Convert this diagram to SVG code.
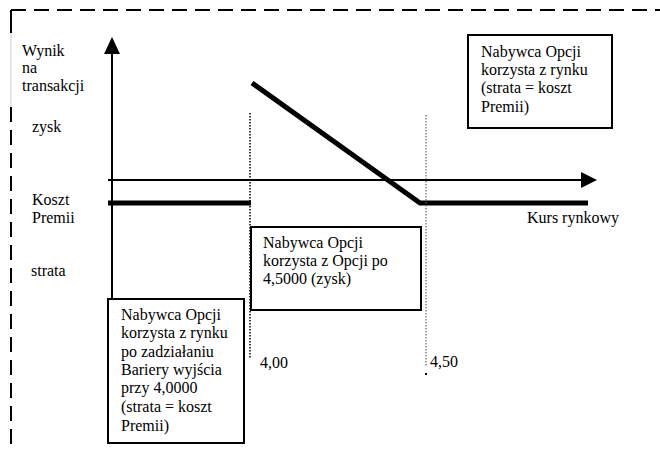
<svg xmlns="http://www.w3.org/2000/svg" width="660" height="449" viewBox="0 0 660 449">
<style>
.box{fill:#fff;stroke:#000;stroke-width:2}
.thick{stroke:#000;stroke-width:5;fill:none}
svg text, g text, #labels text, #box-market text, #box-option text, #box-barrier text{font-family:"Liberation Serif",serif !important;font-size:16px !important;fill:#000}
</style>
<rect width="660" height="449" fill="#fff"/>
<g id="border">
<path d="M11,10 H660" stroke="#000" stroke-width="2" stroke-dasharray="15,8" fill="none"/>
<path d="M11,10 V33" stroke="#000" stroke-width="2" fill="none"/>
<path d="M11,33 V107" stroke="#ccc" stroke-width="1" fill="none"/>
<path d="M11,107 V449" stroke="#000" stroke-width="2" stroke-dasharray="15,8" fill="none"/>
</g>
<g id="connectors">
<line x1="112" y1="299" x2="112" y2="50" stroke="#000" stroke-width="2"/>
<polygon points="112,37 104,54 120,54" fill="#000"/>
<line x1="108" y1="180" x2="584" y2="180" stroke="#000" stroke-width="2"/>
<polygon points="597,180 581,172 581,188" fill="#000"/>
<path class="thick" d="M108,203 H251"/>
<path class="thick" d="M252,83 L420,203 H588"/>
<line x1="250" y1="113" x2="250" y2="358" stroke="#000" stroke-width="1.5" stroke-dasharray="1.5,1.5"/>
<line x1="426" y1="115" x2="426" y2="366" stroke="#666" stroke-width="1.2" stroke-dasharray="1.5,1.5"/>
<rect x="425" y="373" width="2" height="2" fill="#000"/>
</g>
<g id="labels">
<text x="22" y="56" font-family="Liberation Serif, serif" font-size="16" style="font-family:Liberation Serif,serif !important">Wynik</text>
<text x="22" y="73" font-family="Liberation Serif, serif" font-size="16" style="font-family:Liberation Serif,serif !important">na</text>
<text x="22" y="91" font-family="Liberation Serif, serif" font-size="16" style="font-family:Liberation Serif,serif !important">transakcji</text>
<text x="32" y="132" font-family="Liberation Serif, serif" font-size="16" style="font-family:Liberation Serif,serif !important">zysk</text>
<text x="32" y="205" font-family="Liberation Serif, serif" font-size="16" style="font-family:Liberation Serif,serif !important">Koszt</text>
<text x="32" y="223" font-family="Liberation Serif, serif" font-size="16" style="font-family:Liberation Serif,serif !important">Premii</text>
<text x="31" y="276" font-family="Liberation Serif, serif" font-size="16" style="font-family:Liberation Serif,serif !important">strata</text>
<text x="527" y="223" font-family="Liberation Serif, serif" font-size="16" style="font-family:Liberation Serif,serif !important">Kurs rynkowy</text>
<text x="260" y="368" font-family="Liberation Serif, serif" font-size="16" style="font-family:Liberation Serif,serif !important">4,00</text>
<text x="430" y="367" font-family="Liberation Serif, serif" font-size="16" style="font-family:Liberation Serif,serif !important">4,50</text>
</g>
<g id="box-market">
<rect class="box" x="468" y="35" width="144" height="93"/>
<text x="481" y="57" font-family="Liberation Serif, serif" font-size="16" style="font-family:Liberation Serif,serif !important">Nabywca Opcji</text>
<text x="481" y="75" font-family="Liberation Serif, serif" font-size="16" style="font-family:Liberation Serif,serif !important">korzysta z rynku</text>
<text x="481" y="93" font-family="Liberation Serif, serif" font-size="16" style="font-family:Liberation Serif,serif !important">(strata = koszt</text>
<text x="481" y="112" font-family="Liberation Serif, serif" font-size="16" style="font-family:Liberation Serif,serif !important">Premii)</text>
</g>
<g id="box-option">
<rect class="box" x="251" y="227" width="170" height="83"/>
<text x="263" y="248" font-family="Liberation Serif, serif" font-size="16" style="font-family:Liberation Serif,serif !important">Nabywca Opcji</text>
<text x="263" y="266" font-family="Liberation Serif, serif" font-size="16" style="font-family:Liberation Serif,serif !important">korzysta z Opcji po</text>
<text x="263" y="284" font-family="Liberation Serif, serif" font-size="16" style="font-family:Liberation Serif,serif !important">4,5000 (zysk)</text>
</g>
<g id="box-barrier">
<rect class="box" x="108" y="299" width="136" height="144"/>
<text x="121" y="320" font-family="Liberation Serif, serif" font-size="16" style="font-family:Liberation Serif,serif !important">Nabywca Opcji</text>
<text x="121" y="338" font-family="Liberation Serif, serif" font-size="16" style="font-family:Liberation Serif,serif !important">korzysta z rynku</text>
<text x="121" y="357" font-family="Liberation Serif, serif" font-size="16" style="font-family:Liberation Serif,serif !important">po zadziałaniu</text>
<text x="121" y="375" font-family="Liberation Serif, serif" font-size="16" style="font-family:Liberation Serif,serif !important">Bariery wyjścia</text>
<text x="121" y="393" font-family="Liberation Serif, serif" font-size="16" style="font-family:Liberation Serif,serif !important">przy 4,0000</text>
<text x="121" y="412" font-family="Liberation Serif, serif" font-size="16" style="font-family:Liberation Serif,serif !important">(strata = koszt</text>
<text x="121" y="431" font-family="Liberation Serif, serif" font-size="16" style="font-family:Liberation Serif,serif !important">Premii)</text>
</g>
</svg>
